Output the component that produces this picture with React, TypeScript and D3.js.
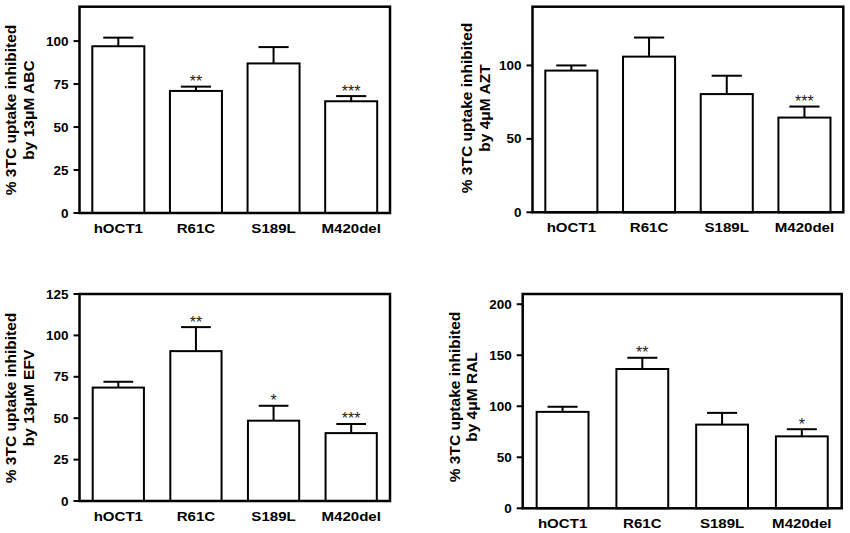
import { scaleBand, scaleLinear } from "d3";

const categories = ["hOCT1", "R61C", "S189L", "M420del"];

const abcMeans = [97, 71, 87, 65];
const abcErrors = [5, 2.5, 9.5, 3];
const abcStars = ["", "**", "", "***"];
const abcTicks = [0, 25, 50, 75, 100];

const aztMeans = [96.5, 106, 80.5, 64.5];
const aztErrors = [3.5, 13, 12.5, 7.5];
const aztStars = ["", "", "", "***"];
const aztTicks = [0, 50, 100];

const efvMeans = [68.5, 90.5, 48.5, 41];
const efvErrors = [3.5, 14.5, 9, 5.5];
const efvStars = ["", "**", "*", "***"];
const efvTicks = [0, 25, 50, 75, 100, 125];

const ralMeans = [94.5, 136.5, 82, 70.5];
const ralErrors = [5, 11, 11.5, 7];
const ralStars = ["", "**", "", "*"];
const ralTicks = [0, 50, 100, 150, 200];

const FONT = "'Liberation Sans', Arial, sans-serif";
const SX = 1.16; // horizontal text stretch seen in the source image

interface PanelProps {
  box: { left: number; right: number; top: number; bottom: number };
  yMax: number;
  ticks: number[];
  means: number[];
  errors: number[];
  stars: string[];
  label: [string, string];
  labelX: [number, number];
  labelY: number;
  padding: number;
}

function Panel({ box, yMax, ticks, means, errors, stars, label, labelX, labelY, padding }: PanelProps) {
  const x = scaleBand<string>()
    .domain(categories)
    .range([box.left, box.right])
    .paddingInner(padding)
    .paddingOuter(padding / 2);
  const y = scaleLinear().domain([0, yMax]).range([box.bottom, box.top]);
  const bw = x.bandwidth();
  const capHalf = bw * 0.29;

  return (
    <g>
      {/* bars */}
      {categories.map((c, i) => {
        const x0 = x(c) ?? 0;
        const cx = x0 + bw / 2;
        const top = y(means[i]);
        const errTop = y(means[i] + errors[i]);
        return (
          <g key={c}>
            <line x1={cx} x2={cx} y1={top} y2={errTop} stroke="#000" strokeWidth={2} />
            <line x1={cx - capHalf} x2={cx + capHalf} y1={errTop} y2={errTop} stroke="#000" strokeWidth={2} />
            <rect x={x0} y={top} width={bw} height={box.bottom - top} fill="#fff" stroke="#000" strokeWidth={2} />
            {stars[i] && (
              <text
                x={cx}
                y={errTop + 0.5}
                textAnchor="middle"
                fontSize={16}
                fontFamily={FONT}
                fill="#222"
              >
                {stars[i]}
              </text>
            )}
            <text
              transform={`translate(${cx},${box.bottom + 20}) scale(${SX},1)`}
              textAnchor="middle"
              fontSize={13}
              fontWeight="bold"
              fontFamily={FONT}
            >
              {c}
            </text>
          </g>
        );
      })}

      {/* frame */}
      <rect
        x={box.left}
        y={box.top}
        width={box.right - box.left}
        height={box.bottom - box.top}
        fill="none"
        stroke="#000"
        strokeWidth={2.5}
      />

      {/* y ticks */}
      {ticks.map((t) => (
        <g key={t}>
          <line x1={box.left - 6} x2={box.left} y1={y(t)} y2={y(t)} stroke="#000" strokeWidth={2} />
          <text
            transform={`translate(${box.left - 11},${y(t) + 4.5}) scale(1.08,1)`}
            textAnchor="end"
            fontSize={12.5}
            fontWeight="bold"
            fontFamily={FONT}
          >
            {t}
          </text>
        </g>
      ))}

      {/* y label */}
      {label.map((l, k) => (
        <text
          key={k}
          transform={`translate(${labelX[k]},${labelY}) rotate(-90)`}
          textAnchor="middle"
          fontSize={15.5}
          fontWeight="bold"
          fontFamily={FONT}
        >
          {l}
        </text>
      ))}
    </g>
  );
}

export default function App() {
  return (
    <svg
      width={850}
      height={533}
      viewBox="0 0 850 533"
      style={{ position: "absolute", left: 0, top: 0, background: "#fff" }}
    >
      <Panel
        box={{ left: 79.5, right: 390, top: 6.7, bottom: 213 }}
        yMax={120}
        ticks={abcTicks}
        means={abcMeans}
        errors={abcErrors}
        stars={abcStars}
        label={["% 3TC uptake inhibited", "by 13μM ABC"]}
        labelX={[15.5, 33.5]}
        labelY={110}
        padding={0.33}
      />
      <Panel
        box={{ left: 532.5, right: 843.3, top: 6.7, bottom: 212.3 }}
        yMax={140}
        ticks={aztTicks}
        means={aztMeans}
        errors={aztErrors}
        stars={aztStars}
        label={["% 3TC uptake inhibited", "by 4μM AZT"]}
        labelX={[471.5, 489.5]}
        labelY={108}
        padding={0.33}
      />
      <Panel
        box={{ left: 79.5, right: 390, top: 294, bottom: 501 }}
        yMax={125}
        ticks={efvTicks}
        means={efvMeans}
        errors={efvErrors}
        stars={efvStars}
        label={["% 3TC uptake inhibited", "by 13μM EFV"]}
        labelX={[15.5, 33.5]}
        labelY={398}
        padding={0.34}
      />
      <Panel
        box={{ left: 522.7, right: 841.7, top: 294, bottom: 508.3 }}
        yMax={210}
        ticks={ralTicks}
        means={ralMeans}
        errors={ralErrors}
        stars={ralStars}
        label={["% 3TC uptake inhibited", "by 4μM RAL"]}
        labelX={[460, 477]}
        labelY={397}
        padding={0.35}
      />
    </svg>
  );
}
